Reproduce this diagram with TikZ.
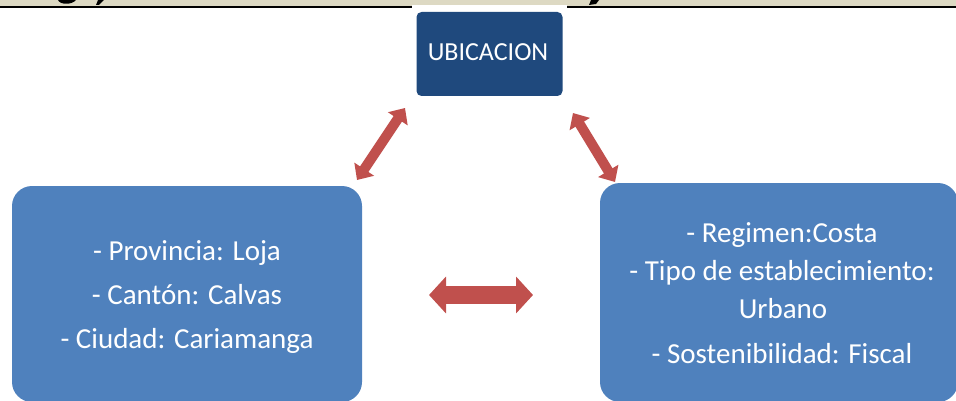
\documentclass[tikz,border=0pt]{standalone}
\usepackage{fontspec}
\setmainfont{Carlito}
\usetikzlibrary{arrows.meta}
\definecolor{bgtan}{HTML}{DDD9C3}
\definecolor{ubiblue}{HTML}{1F497D}
\definecolor{boxblue}{HTML}{4F81BD}
\definecolor{arrred}{HTML}{C0504D}
\tikzset{
  ubibox/.style={fill=ubiblue, rounded corners=5pt, inner sep=0pt},
  infobox/.style={fill=boxblue, rounded corners=20pt, inner sep=0pt},
  boxtext/.style={text=white, anchor=base, inner sep=0pt, font=\fontsize{29}{35}\selectfont},
  diagarr/.style={draw=arrred, line width=10pt, {Triangle[width=23pt,length=13pt]}-{Triangle[width=23pt,length=13pt]}},
  horarr/.style={draw=arrred, line width=18pt, {Triangle[width=36pt,length=17pt]}-{Triangle[width=36pt,length=17pt]}}
}
\begin{document}
\begin{tikzpicture}[x=1pt,y=-1pt]
\useasboundingbox (0,0) rectangle (956,401);
\clip (0,0) rectangle (956,401);
% top band with cut-off glyph fragments
\fill[bgtan] (0,0) rectangle (956,6);
\fill[black] (58,0) .. controls (60,5) and (72,5) .. (76,0) -- cycle;
\fill[black] (98,0) -- (104,0) -- (99,5) -- (96,5) -- cycle;
\fill[black] (591,0) -- (599,0) -- (596,4) -- (589,5) -- cycle;
\fill[black] (0,6) rectangle (956,8.5);
\fill[white] (412,5.5) rectangle (567,12);
% boxes
\node[ubibox, minimum width=146pt, minimum height=84pt] (ubi) at (489.5,54) {};
\node[text=white, anchor=base, inner sep=0pt, font=\fontsize{26}{30}\selectfont] (ubit) at (488,61) {UBICACION};
\node[infobox, minimum width=350pt, minimum height=216pt] (left) at (187,294) {};
\node[infobox, minimum width=358pt, minimum height=219pt] (right) at (779,292.5) {};
% left text
\node[boxtext] (l1) at (187,260) {- Provincia: Loja};
\node[boxtext] (l2) at (187,304) {- Cantón: Calvas};
\node[boxtext] (l3) at (187,348) {- Ciudad: Cariamanga};
% right text
\node[boxtext] (r1) at (782,242) {- Regimen:Costa};
\node[boxtext] (r2) at (782,280) {- Tipo de establecimiento:};
\node[boxtext] (r3) at (783,318) {Urbano};
\node[boxtext] (r4) at (782,363) {- Sostenibilidad: Fiscal};
% arrows
\coordinate (a1) at (405,108);
\coordinate (a2) at (357,180);
\coordinate (b1) at (573,113);
\coordinate (b2) at (615,182);
\coordinate (c1) at (429,295);
\coordinate (c2) at (533,295);
\draw[diagarr] (a2) -- (a1);
\draw[diagarr] (b1) -- (b2);
\draw[horarr] (c1) -- (c2);
\end{tikzpicture}
\end{document}
